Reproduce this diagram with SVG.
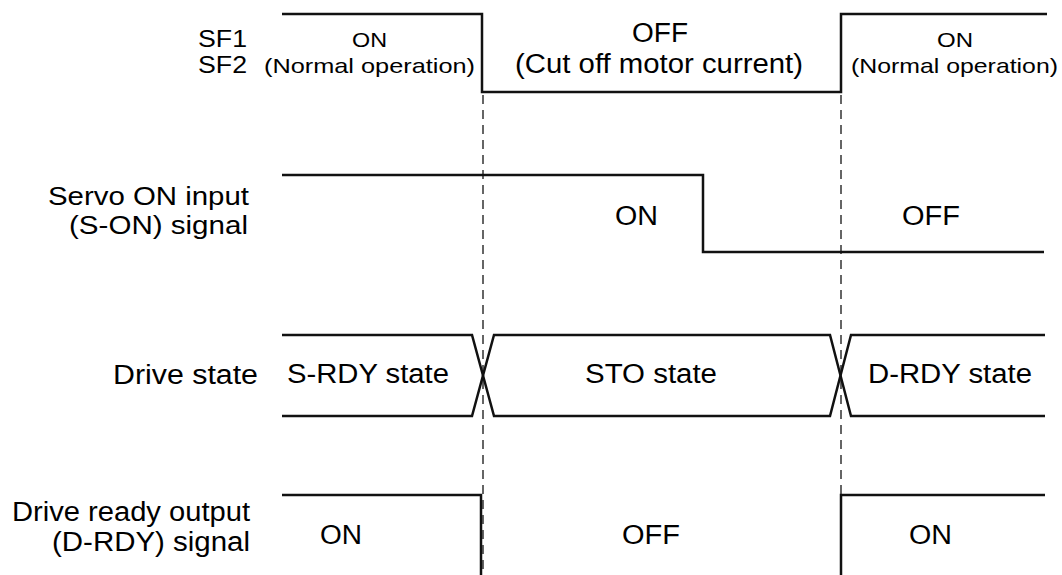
<svg xmlns="http://www.w3.org/2000/svg" width="1062" height="575" viewBox="0 0 1062 575">
<style>
text{font-family:"Liberation Sans",Arial,sans-serif;fill:#000;}
.m{font-size:27px;}
.l{font-size:25px;}
.s{font-size:21px;}
.sf{font-size:24px;}
.w{fill:none;stroke:#111;stroke-width:2.5;stroke-linejoin:miter;}
.d{fill:none;stroke:#333;stroke-width:1.5;stroke-dasharray:9 6;}
</style>
<rect width="1062" height="575" fill="#fff"/>
<g id="connectors">
<line class="d" x1="483" y1="95" x2="483" y2="575"/>
<line class="d" x1="841" y1="95" x2="841" y2="575"/>
</g>
<g id="sf">
<path class="w" d="M282,14 H482 V92 H841 V14 H1047"/>
<text class="sf" x="198" y="47" textLength="49" lengthAdjust="spacingAndGlyphs">SF1</text>
<text class="sf" x="198" y="73" textLength="49" lengthAdjust="spacingAndGlyphs">SF2</text>
<text class="s" x="352" y="47" textLength="35" lengthAdjust="spacingAndGlyphs">ON</text>
<text class="s" x="264" y="73" textLength="211" lengthAdjust="spacingAndGlyphs">(Normal operation)</text>
<text class="m" x="632" y="42" textLength="56" lengthAdjust="spacingAndGlyphs">OFF</text>
<text class="m" x="515" y="73" textLength="288" lengthAdjust="spacingAndGlyphs">(Cut off motor current)</text>
<text class="s" x="937" y="47" textLength="36" lengthAdjust="spacingAndGlyphs">ON</text>
<text class="s" x="851" y="73" textLength="207" lengthAdjust="spacingAndGlyphs">(Normal operation)</text>
</g>
<g id="servo-on">
<path class="w" d="M282,175 H703 V252 H1044"/>
<text class="l" x="48" y="205" textLength="201" lengthAdjust="spacingAndGlyphs">Servo ON input</text>
<text class="l" x="69" y="234" textLength="179" lengthAdjust="spacingAndGlyphs">(S-ON) signal</text>
<text class="m" x="615" y="225" textLength="43" lengthAdjust="spacingAndGlyphs">ON</text>
<text class="m" x="902" y="225" textLength="58" lengthAdjust="spacingAndGlyphs">OFF</text>
</g>
<g id="drive-state">
<path class="w" d="M282,335 H472 L494,416 H830 L851,335 H1045"/>
<path class="w" d="M282,416 H472 L494,335 H830 L851,416 H1045"/>
<text class="m" x="113" y="384" textLength="145" lengthAdjust="spacingAndGlyphs">Drive state</text>
<text class="m" x="287" y="383" textLength="162" lengthAdjust="spacingAndGlyphs">S-RDY state</text>
<text class="m" x="585" y="383" textLength="132" lengthAdjust="spacingAndGlyphs">STO state</text>
<text class="m" x="868" y="383" textLength="164" lengthAdjust="spacingAndGlyphs">D-RDY state</text>
</g>
<g id="drive-ready">
<path class="w" d="M282,495 H481 V575"/>
<path class="w" d="M841,575 V495 H1045"/>
<text class="m" x="12" y="521" textLength="238" lengthAdjust="spacingAndGlyphs">Drive ready output</text>
<text class="m" x="52" y="551" textLength="198" lengthAdjust="spacingAndGlyphs">(D-RDY) signal</text>
<text class="m" x="320" y="544" textLength="42" lengthAdjust="spacingAndGlyphs">ON</text>
<text class="m" x="622" y="544" textLength="58" lengthAdjust="spacingAndGlyphs">OFF</text>
<text class="m" x="909" y="544" textLength="43" lengthAdjust="spacingAndGlyphs">ON</text>
</g>
</svg>
